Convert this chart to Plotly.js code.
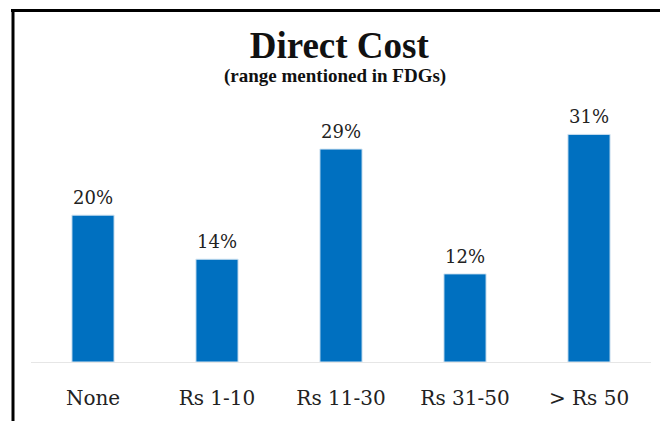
<!DOCTYPE html>
<html>
<head>
<meta charset="utf-8">
<script src="https://cdn.plot.ly/plotly-3.0.1.min.js"></script>
<style>
html,body{margin:0;padding:0;background:#fff;}
#chart{width:660px;height:421px;}
</style>
</head>
<body>
<div id="chart"></div>
<script>
const categories = ["None", "Rs 1-10", "Rs 11-30", "Rs 31-50", "> Rs 50"];
const values = [20, 14, 29, 12, 31];
const labels = values.map(v => v + "%");
const titleText = "Direct Cost";
const subtitleText = "(range mentioned in FDGs)";

const serif = "Liberation Serif, Times New Roman, serif";
const wideSerif = "DejaVu Serif, Liberation Serif, serif";

const trace = {
  type: "bar",
  x: categories,
  y: values,
  marker: { color: "#0070C0", line: { color: "#d6e6f2", width: 1 } },
  hoverinfo: "none"
};

const annotations = categories.map((c, i) => ({
  x: c, y: values[i], xref: "x", yref: "y",
  text: labels[i], showarrow: false,
  yanchor: "bottom", yshift: 5,
  font: { family: wideSerif, size: 18, color: "#222" }
}));
annotations.push({
  xref: "paper", yref: "paper", x: 0.49, y: (362 - 76) / 257,
  yanchor: "middle", xanchor: "center", yshift: 0,
  text: "<b>" + subtitleText + "</b>", showarrow: false,
  font: { family: serif, size: 19, color: "#111" }
});

const layout = {
  width: 660, height: 421,
  margin: { l: 31, r: 9, t: 105, b: 59 },
  paper_bgcolor: "#fff", plot_bgcolor: "#fff",
  showlegend: false,
  bargap: 0.66,
  title: {
    text: "<b>" + titleText + "</b>",
    x: 0.514, xanchor: "center",
    y: 1 - 45 / 421, yanchor: "middle",
    font: { family: serif, size: 37, color: "#111" }
  },
  xaxis: {
    type: "category",
    showline: true, linecolor: "#e6e6e6", linewidth: 1,
    ticks: "outside", ticklen: 18, tickcolor: "rgba(0,0,0,0)",
    tickfont: { family: wideSerif, size: 20, color: "#222" },
    showgrid: false, zeroline: false
  },
  yaxis: {
    range: [0, 35],
    showticklabels: false, showgrid: false, zeroline: false, showline: false, ticks: ""
  },
  annotations: annotations,
  shapes: [
    { type: "line", xref: "paper", yref: "paper",
      x0: (13 - 31) / 620, x1: (13 - 31) / 620, y0: (362 - 9) / 257, y1: -0.3,
      line: { color: "#000", width: 3 } },
    { type: "line", xref: "paper", yref: "paper",
      x0: (11 - 31) / 620, x1: 1.1, y0: (362 - 10.5) / 257, y1: (362 - 10.5) / 257,
      line: { color: "#000", width: 3 } }
  ]
};

Plotly.newPlot("chart", [trace], layout, { displayModeBar: false, staticPlot: true });
</script>
</body>
</html>
